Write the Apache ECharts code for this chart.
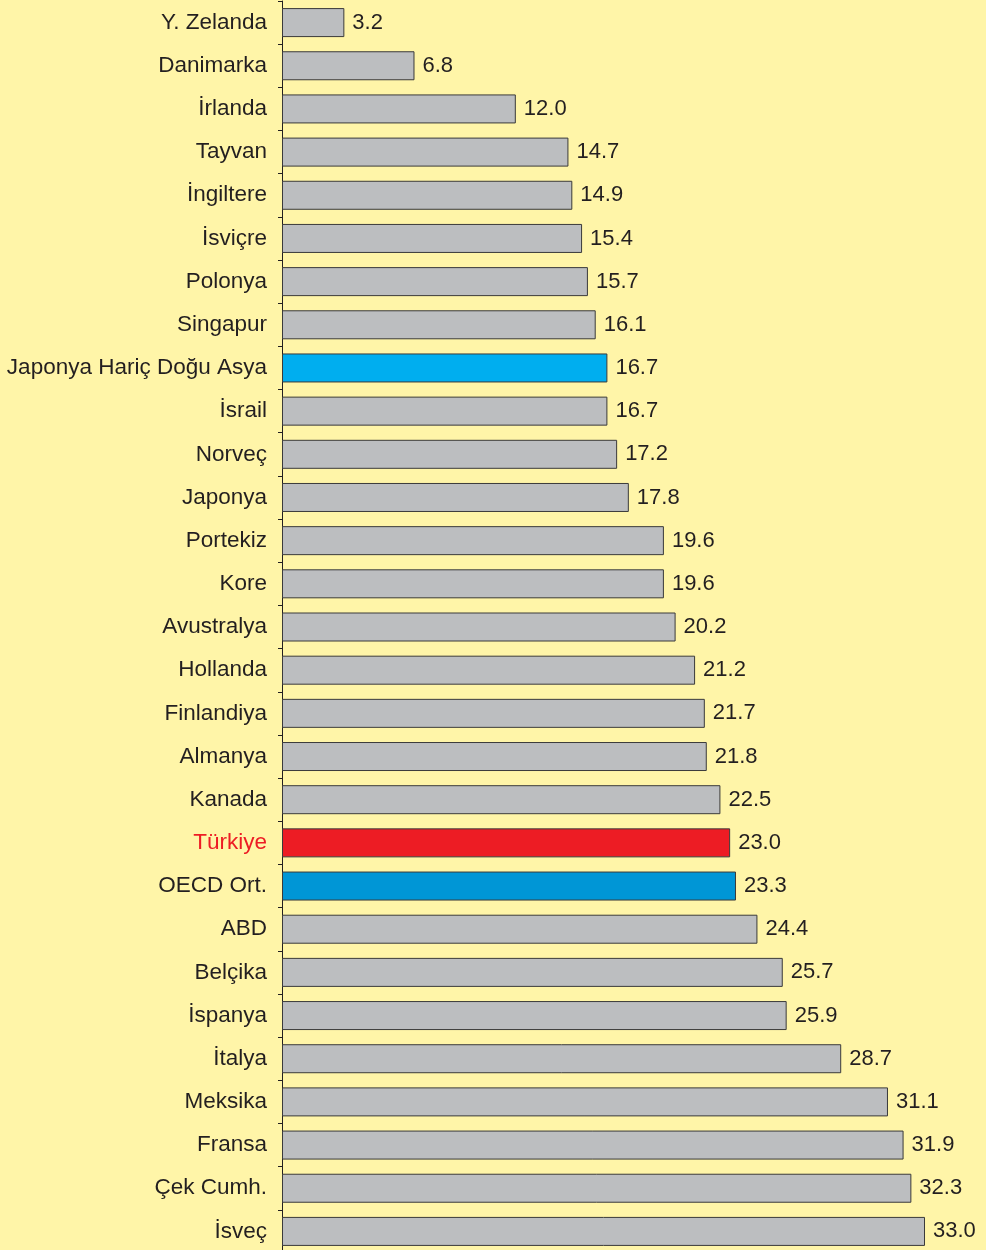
<!DOCTYPE html>
<html>
<head>
<meta charset="utf-8">
<script src="https://cdn.jsdelivr.net/npm/echarts@6/dist/echarts.min.js"></script>
<style>
html,body{margin:0;padding:0;background:#FFF5A8;}
#chart{width:986px;height:1250px;}
</style>
</head>
<body>
<div id="chart"></div>
<script>
const categories = ["Y. Zelanda","Danimarka","İrlanda","Tayvan","İngiltere","İsviçre","Polonya","Singapur","Japonya Hariç Doğu Asya","İsrail","Norveç","Japonya","Portekiz","Kore","Avustralya","Hollanda","Finlandiya","Almanya","Kanada","Türkiye","OECD Ort.","ABD","Belçika","İspanya","İtalya","Meksika","Fransa","Çek Cumh.","İsveç"];
const values = [3.2,6.8,12.0,14.7,14.9,15.4,15.7,16.1,16.7,16.7,17.2,17.8,19.6,19.6,20.2,21.2,21.7,21.8,22.5,23.0,23.3,24.4,25.7,25.9,28.7,31.1,31.9,32.3,33.0];

const barColors = {"Japonya Hariç Doğu Asya":"#00AEEF","Türkiye":"#ED1C24","OECD Ort.":"#0096D6"};
const defaultBar = "#BCBEC0";
const textColor = "#231F20";

const chart = echarts.init(document.getElementById('chart'));
chart.setOption({
  backgroundColor: '#FFF5A8',
  animation: false,
  grid: {left: 282, right: 61, top: 1, height: 1252, containLabel: false, outerBoundsMode: 'none'},
  xAxis: {type: 'value', min: 0, max: 33, show: false},
  yAxis: {
    type: 'category', data: categories, inverse: true,
    axisLine: {show: true, lineStyle: {color: '#231F20', width: 1}},
    axisTick: {show: true, alignWithLabel: false, length: 4, inside: false, lineStyle: {color: '#231F20'}},
    axisLabel: {
      margin: 15, fontSize: 22.5, fontFamily: 'Liberation Sans, Arial, sans-serif',
      padding: [3, 0, 0, 0],
      color: function(v){ return v === 'Türkiye' ? '#ED1C24' : textColor; }
    }
  },
  series: [{
    type: 'bar', barWidth: 29,
    data: values.map((v,i)=>({value:v, itemStyle:{color: barColors[categories[i]] || defaultBar}})),
    itemStyle: {borderColor: '#3A3A3A', borderWidth: 1},
    label: {show: true, position: 'right', distance: 8, fontSize: 22, fontFamily: 'Liberation Sans, Arial, sans-serif', color: textColor,
      padding: [3, 0, 0, 0],
      formatter: p => p.value.toFixed(1)}
  }]
});
</script>
</body>
</html>
